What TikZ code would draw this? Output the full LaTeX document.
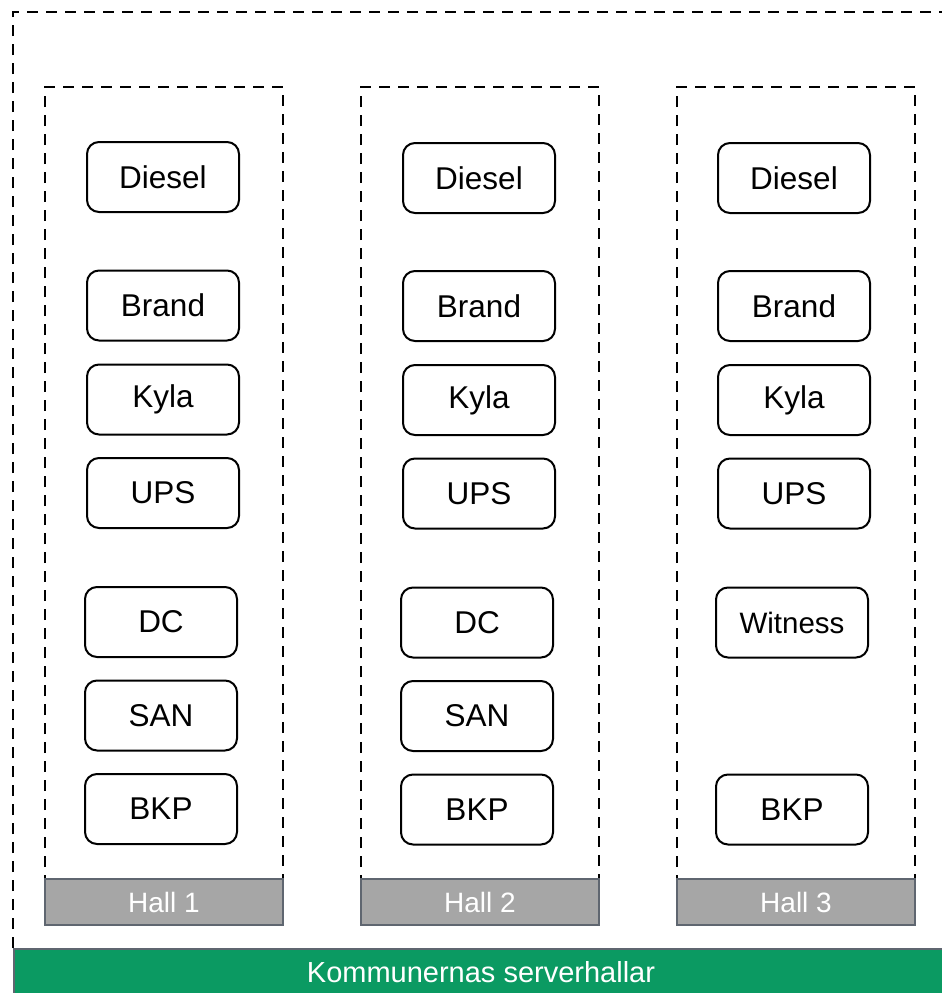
\documentclass[tikz,border=0pt]{standalone}
\usepackage{fontspec}
\setmainfont{Liberation Sans}
\definecolor{grbar}{RGB}{11,154,98}
\definecolor{hallgray}{RGB}{166,166,166}
\definecolor{hallborder}{RGB}{95,102,112}
\begin{document}
\begin{tikzpicture}[x=1pt,y=-1pt,
  unit/.style={draw=black,line width=2pt,rounded corners=12pt,minimum width=152pt,minimum height=70pt,inner sep=0pt,font=\fontsize{31.5}{36}\selectfont},
  dashbox/.style={draw=black,line width=2.6pt,dash pattern=on 11pt off 8pt},
  halllabel/.style={draw=hallborder,fill=hallgray,line width=2pt,minimum width=238pt,minimum height=46pt,inner sep=0pt,text=white,font=\fontsize{28}{32}\selectfont}]
\useasboundingbox (0,0) rectangle (942,993);
\clip (0,0) rectangle (942,993);
% outer dashed frame
\draw[dashbox] (13,948) -- (13,12) -- (960,12);
% green bar
\node[draw=hallborder,fill=grbar,line width=2pt,minimum width=960pt,minimum height=60pt,inner sep=0pt,anchor=north west] (bar) at (13,948) {};
\node[text=white,font=\fontsize{29}{33}\selectfont] (bartext) at (481,972) {Kommunernas serverhallar};
% halls
\foreach \hx/\n in {45/1,361/2,677/3}{
  \draw[dashbox] (\hx,924) -- (\hx,87) -- (\hx+238,87) -- (\hx+238,924);
  \node[halllabel] (hall\n) at (\hx+119,902) {Hall \n};
}
% hall 1
\node[unit] (d1) at (163,177) {Diesel};
\node[unit] (b1) at (163,305.5) {Brand};
\node[unit] (k1) at (163,399.5) {Kyla};
\node[unit] (u1) at (163,493) {UPS};
\node[unit] (dc1) at (161,622) {DC};
\node[unit] (s1) at (161,715.5) {SAN};
\node[unit] (bk1) at (161,809) {BKP};
% hall 2
\node[unit] (d2) at (479,178) {Diesel};
\node[unit] (b2) at (479,306) {Brand};
\node[unit] (k2) at (479,400) {Kyla};
\node[unit] (u2) at (479,493.5) {UPS};
\node[unit] (dc2) at (477,622.5) {DC};
\node[unit] (s2) at (477,716) {SAN};
\node[unit] (bk2) at (477,809.5) {BKP};
% hall 3
\node[unit] (d3) at (794,178) {Diesel};
\node[unit] (b3) at (794,306) {Brand};
\node[unit] (k3) at (794,400) {Kyla};
\node[unit] (u3) at (794,493.5) {UPS};
\node[unit,font=\fontsize{29.5}{34}\selectfont] (w3) at (792,622.5) {Witness};
\node[unit] (bk3) at (792,809.5) {BKP};
\end{tikzpicture}
\end{document}
